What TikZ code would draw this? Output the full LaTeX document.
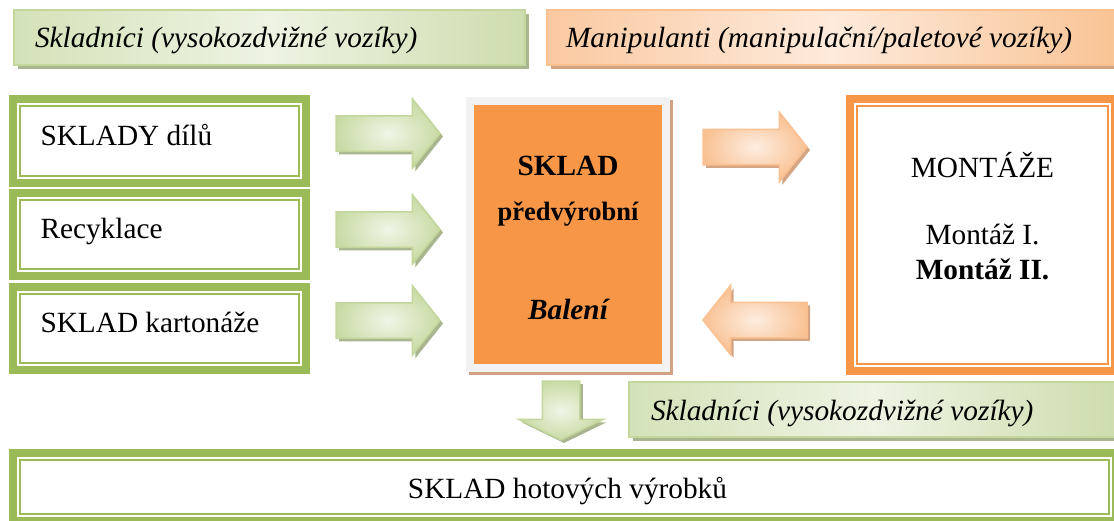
\documentclass[tikz,border=0pt]{standalone}
\usepackage{fontspec}
\setmainfont{Liberation Serif}
\usetikzlibrary{shapes.arrows,shadows,calc}
\definecolor{gband}{HTML}{9BBB59}
\definecolor{gbord}{HTML}{C3D69B}
\definecolor{gbl}{HTML}{D4E2B8}
\definecolor{gbm}{HTML}{EEF3E3}
\definecolor{gbr}{HTML}{CEDDAE}
\definecolor{gshadow}{HTML}{A8B58F}
\definecolor{oband}{HTML}{F79646}
\definecolor{obord}{HTML}{FAC090}
\definecolor{obl}{HTML}{FAC9A1}
\definecolor{obm}{HTML}{FDEADB}
\definecolor{obr}{HTML}{F9C495}
\definecolor{oshadow}{HTML}{D4A583}
\definecolor{cgray}{HTML}{F2F2F2}
\definecolor{cshadow}{HTML}{D0A283}
\definecolor{gai}{HTML}{F0F5E6}
\definecolor{gao}{HTML}{C9DBA5}
\definecolor{oai}{HTML}{FDEDE0}
\definecolor{oao}{HTML}{F9C294}
\tikzset{
  txt/.style={font=\fontsize{29.3}{35}\selectfont, inner sep=0pt, outer sep=0pt},
  gbox/.style={draw=gband, line width=8pt, fill=white, outer sep=0pt, inner sep=0pt},
  obox/.style={draw=oband, line width=8pt, fill=white, outer sep=0pt, inner sep=0pt},
  gthin/.style={draw=gband, line width=2pt},
  othin/.style={draw=oband, line width=2pt},
  gbanner/.style={draw=gbord, line width=1.5pt, left color=gbl, right color=gbr, middle color=gbm,
    outer sep=0pt, inner sep=0pt, minimum height=55pt,
    general shadow={fill=gshadow, shadow xshift=3.5pt, shadow yshift=-3.5pt}},
  obanner/.style={draw=obord, line width=1.5pt, left color=obl, right color=obr, middle color=obm,
    outer sep=0pt, inner sep=0pt, minimum height=55pt,
    general shadow={fill=oshadow, shadow xshift=3.5pt, shadow yshift=-3.5pt}},
  cbox/.style={draw=cgray, line width=8pt, fill=oband, outer sep=0pt, inner sep=0pt,
    general shadow={draw=cshadow, line width=8pt, fill=cshadow, shadow xshift=3pt, shadow yshift=-3pt}},
  arrowbase/.style={single arrow, line width=1.5pt, inner xsep=0pt, inner ysep=17pt,
    single arrow head extend=17pt, single arrow tip angle=103, minimum height=104pt, outer sep=0pt},
  garrow/.style={arrowbase, draw=gbord, inner color=gai, outer color=gao,
    general shadow={fill=gshadow, shadow xshift=3pt, shadow yshift=-3pt}},
  oarrow/.style={arrowbase, draw=obord, inner color=oai, outer color=oao,
    general shadow={fill=oshadow, shadow xshift=3pt, shadow yshift=-3pt}},
}
\begin{document}
\begin{tikzpicture}[x=1pt,y=-1pt]
\useasboundingbox (0,0) rectangle (1114,520);
\clip (0,0) rectangle (1114,520);

% banners
\node[gbanner, minimum width=511pt] (ban1) at (269.5,37.5) {};
\node[obanner, minimum width=570pt] (ban2) at (832,37.5) {};
\node[gbanner, minimum width=488pt] (ban3) at (873,409.5) {};
\node[txt, anchor=base west, font=\fontsize{29.3}{35}\selectfont\itshape] (tban1) at (35,47) {Skladníci (vysokozdvižné vozíky)};
\node[txt, anchor=base west, font=\fontsize{29.3}{35}\selectfont\itshape] (tban2) at (566,47) {Manipulanti (manipulační/paletové vozíky)};
\node[txt, anchor=base west, font=\fontsize{29.3}{35}\selectfont\itshape] (tban3) at (651,420) {Skladníci (vysokozdvižné vozíky)};

% left boxes
\node[gbox, minimum width=293pt, minimum height=84pt] (b1) at (159.5,141) {};
\node[gbox, minimum width=293pt, minimum height=83pt] (b2) at (159.5,234.5) {};
\node[gbox, minimum width=293pt, minimum height=83pt] (b3) at (159.5,328.5) {};
\node[gbox, minimum width=1103pt, minimum height=68pt] (hot) at (564.5,487) {};
\node[obox, minimum width=265pt, minimum height=272pt] (mon) at (982.5,235) {};
\foreach \n in {b1,b2,b3,hot}
  \draw[gthin] ($(\n.north west)+(7,7)$) rectangle ($(\n.south east)+(-7,-7)$);
\draw[othin] ($(mon.north west)+(7,7)$) rectangle ($(mon.south east)+(-7,-7)$);

\node[txt, anchor=base west] (t1) at (40.5,145) {SKLADY dílů};
\node[txt, anchor=base west] (t2) at (40.5,238) {Recyklace};
\node[txt, anchor=base west] (t3) at (40.5,332) {SKLAD kartonáže};
\node[txt, anchor=base] (thot) at (567.5,498) {SKLAD hotových výrobků};

% center box
\node[cbox, minimum width=196pt, minimum height=267pt] (sk) at (568,234.5) {};
\node[txt, anchor=base, font=\fontsize{29.3}{35}\selectfont\bfseries] (sk1) at (568,175) {SKLAD};
\node[txt, anchor=base, font=\fontsize{26.5}{32}\selectfont\bfseries] (sk2) at (568,220) {předvýrobní};
\node[txt, anchor=base, font=\fontsize{29.3}{35}\selectfont\bfseries\itshape] (sk3) at (568,319) {Balení};

% montaze texts
\node[txt, anchor=base] (m1) at (982.5,177) {MONTÁŽE};
\node[txt, anchor=base] (m2) at (982.5,244) {Montáž I.};
\node[txt, anchor=base, font=\fontsize{29.3}{35}\selectfont\bfseries] (m3) at (982.5,279) {Montáž II.};

% arrows
\node[garrow, anchor=tail] (ga1) at (336,133.5) {};
\node[garrow, anchor=tail] (ga2) at (336,229.5) {};
\node[garrow, anchor=tail] (ga3) at (336,320.5) {};
\node[oarrow, anchor=tail] (oa1) at (703,147) {};
\node[oarrow, anchor=tail, rotate=180] (oa2) at (807,320) {};
\node[garrow, anchor=tail, rotate=-90, inner ysep=18pt, single arrow head extend=23.5pt,
      single arrow tip angle=128, minimum height=59pt] (da) at (561,381) {};
\end{tikzpicture}
\end{document}
